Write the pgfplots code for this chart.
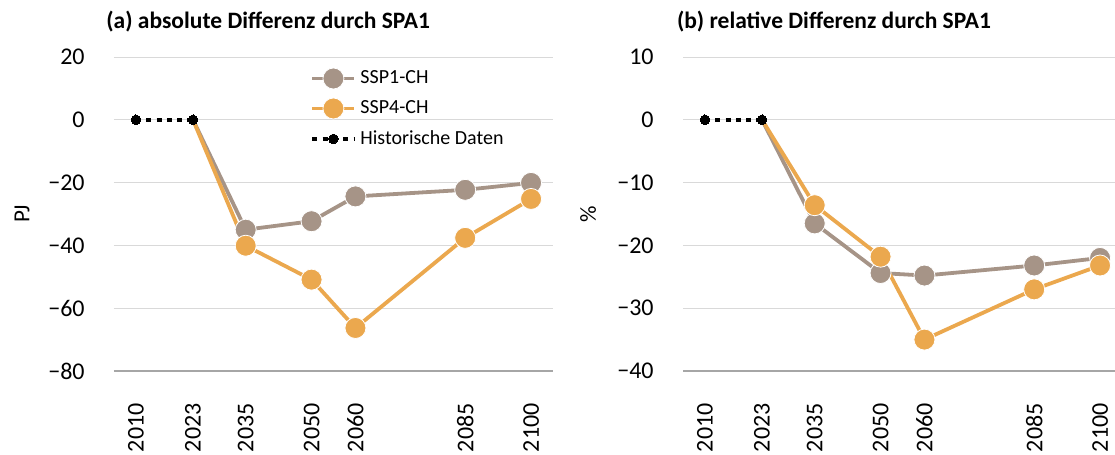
\documentclass[border=0pt]{standalone}
\usepackage{pgfplots}
\pgfplotsset{compat=1.18}
\usepackage{fontspec}
\setmainfont{Carlito}
\definecolor{sspone}{HTML}{A69487}
\definecolor{sspfour}{HTML}{EBA84E}
\definecolor{gridc}{HTML}{D9D9D9}
\definecolor{axc}{HTML}{A6A6A6}
\pgfplotsset{
  mystyle/.style={
    scale only axis, width=219.5pt, height=157pt,
    xmin=2005, xmax=2105,
    axis x line*=bottom, axis y line*=left,
    x axis line style={draw=axc, line width=0.75pt, -},
    y axis line style={draw=none},
    tick style={draw=none},
    ymajorgrids, grid style={draw=gridc, line width=0.5pt},
    xtick={2010,2023,2035,2050,2060,2085,2100},
    xticklabels={2010,2023,2035,2050,2060,2085,2100},
    xticklabel style={rotate=90, anchor=east, inner sep=0pt, font=\fontsize{12}{14}\selectfont},
    xticklabel shift=16pt,
    yticklabel style={anchor=east, inner sep=0pt, font=\fontsize{12}{14}\selectfont},
    yticklabel shift=14.5pt,
    ylabel style={anchor=center, font=\fontsize{11.5}{13}\selectfont},
    clip=false,
    legend image code/.code={\draw[mark repeat=2, mark phase=2] plot coordinates {(0pt,0pt)(10.5pt,0pt)(21pt,0pt)};},
  },
  soneline/.style={color=sspone, line width=1.9pt, no marks},
  sfourline/.style={color=sspfour, line width=1.9pt, no marks},
  sone/.style={color=sspone, line width=1.9pt, mark=*, mark size=5.25pt,
    mark options={solid, fill=sspone, draw=white, line width=0.4pt}},
  sfour/.style={color=sspfour, line width=1.9pt, mark=*, mark size=5.25pt,
    mark options={solid, fill=sspfour, draw=white, line width=0.4pt}},
  hist/.style={color=black, line width=2pt, dash pattern=on 2.5pt off 2.65pt, mark=*, mark size=2.4pt,
    mark options={solid, fill=black, draw=black, line width=0pt}},
}
\begin{document}
\begin{tikzpicture}
\useasboundingbox (0,0) rectangle (557.5pt,227.5pt);
\begin{axis}[mystyle, at={(57pt,42pt)}, anchor=south west,
  ymin=-80, ymax=20, ytick={-80,-60,-40,-20,0,20},
  yticklabels={−80,−60,−40,−20,0,20},
  ylabel={PJ}, ylabel style={at={(axis description cs:-0.2096,0.5)}},
  legend style={draw=none, fill=none, at={(axis description cs:0.4465,0.971)}, anchor=north west,
    font=\fontsize{10}{12}\selectfont, inner sep=0pt, row sep=3pt},
  legend cell align=left]
\addplot[soneline, forget plot] coordinates {(2023,0)(2035,-35.0)};
\addplot[sone] coordinates {(2035,-35.0)(2050,-32.3)(2060,-24.4)(2085,-22.3)(2100,-20.1)};
\addlegendentry{SSP1-CH}
\addplot[sfourline, forget plot] coordinates {(2023,0)(2035,-40.1)};
\addplot[sfour] coordinates {(2035,-40.1)(2050,-50.9)(2060,-66.3)(2085,-37.6)(2100,-25.2)};
\addlegendentry{SSP4-CH}
\addplot[hist] coordinates {(2010,0)(2023,0)};
\addlegendentry{Historische Daten}
\end{axis}
\begin{axis}[mystyle, at={(341.5pt,42pt)}, anchor=south west,
  ymin=-40, ymax=10, ytick={-40,-30,-20,-10,0,10},
  yticklabels={−40,−30,−20,−10,0,10},
  ylabel={\%}, ylabel style={at={(axis description cs:-0.216,0.5)}}]
\addplot[soneline, forget plot] coordinates {(2023,0)(2035,-16.5)};
\addplot[sone] coordinates {(2035,-16.5)(2050,-24.4)(2060,-24.8)(2085,-23.2)(2100,-22.0)};
\addplot[sfourline, forget plot] coordinates {(2023,0)(2035,-13.6)};
\addplot[sfour] coordinates {(2035,-13.6)(2050,-21.8)(2060,-35.0)(2085,-27.0)(2100,-23.2)};
\addplot[hist] coordinates {(2010,0)(2023,0)};
\end{axis}
\node[anchor=west, inner sep=0pt, font=\bfseries\fontsize{11.75}{14}\selectfont] at (53pt,216.5pt) {(a) absolute Differenz durch SPA1};
\node[anchor=west, inner sep=0pt, font=\bfseries\fontsize{11.75}{14}\selectfont] at (338.3pt,216.5pt) {(b) relative Differenz durch SPA1};
\end{tikzpicture}
\end{document}
